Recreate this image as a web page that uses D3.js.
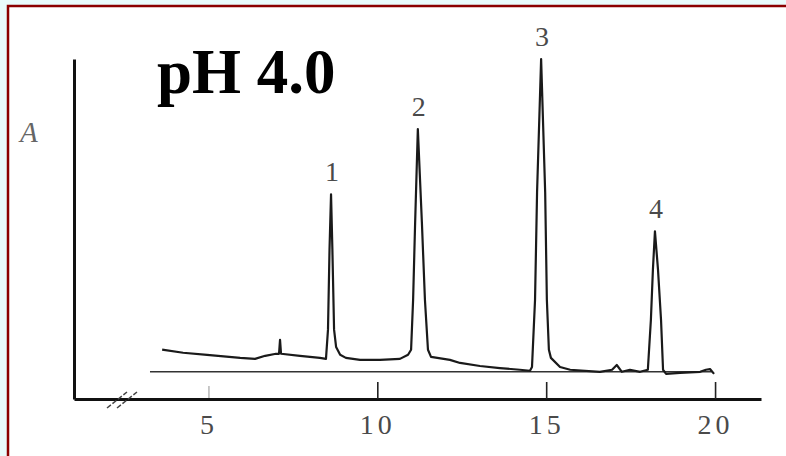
<!DOCTYPE html>
<meta charset="utf-8">
<style>
    body { margin: 0; background: #e9fbfc; }
    svg { display: block; }
    .tick text { font: 28px "Liberation Serif", serif; fill: #4a4a4a; letter-spacing: 4px; }
    .peak-label { font: 28px "Liberation Serif", serif; fill: #4a4a4a; text-anchor: middle; }
</style>
<svg></svg>
<script src="https://d3js.org/d3.v7.min.js"></script>
<script>

    var width = 786,
        height = 456;

    // retention time (min) and absorbance (arbitrary units)
    var retentionTimes = [3.63, 4.25, 4.96, 5.94, 6.38, 6.68, 7.00, 7.09, 7.12, 7.15, 7.71, 8.30, 8.48,
        8.54, 8.585, 8.63, 8.67, 8.72, 8.78, 8.90, 9.07, 9.49, 10.08, 10.67, 10.91, 11.00,
        11.06, 11.12, 11.20, 11.32, 11.41, 11.50, 11.59, 12.15, 12.45, 13.04, 13.63, 14.22, 14.52,
        14.58, 14.67, 14.73, 14.85, 14.97, 15.02, 15.08, 15.14, 15.41, 15.71, 16.59, 16.95, 17.09,
        17.24, 17.48, 17.78, 18.01, 18.10, 18.16, 18.22, 18.31, 18.40, 18.46, 18.55, 18.96, 19.56,
        19.73, 19.85, 19.97];
    var absorbance = [14.5, 13.6, 13.0, 12.1, 11.8, 12.7, 13.3, 13.3, 17.4, 13.3, 12.7, 12.1, 11.8,
        20.4, 44.0, 60.2, 44.0, 20.4, 15.3, 13.0, 12.1, 11.5, 11.5, 11.8, 13.0, 14.5,
        29.2, 51.9, 79.4, 51.9, 29.2, 14.5, 12.4, 11.5, 10.6, 9.7, 9.1, 8.6, 8.3,
        9.4, 29.2, 60.8, 100, 60.8, 29.2, 14.5, 12.1, 9.4, 8.6, 8.0, 8.6, 10.0,
        8.0, 8.6, 8.0, 8.6, 23.3, 38.1, 49.3, 38.1, 23.3, 8.6, 7.4, 7.7, 8.0,
        8.6, 8.8, 7.4];

    var peakLabels = ["1", "2", "3", "4"];
    var peakTimes = [8.63, 11.20, 14.85, 18.22];
    var peakHeights = [60.2, 79.4, 100, 49.3];

    var xTickValues = [5, 10, 15, 20];
    var baselineLevel = 8.0;
    var baselineRange = [3.27, 19.9];

    var svg = d3.select("svg")
        .attr("width", width)
        .attr("height", height);

    // frame
    svg.append("rect")
        .attr("x", 8).attr("y", 6)
        .attr("width", 820).attr("height", 500)
        .attr("fill", "#fff")
        .attr("stroke", "#8b0000")
        .attr("stroke-width", 2.5);

    var x = d3.scaleLinear().domain([1.02, 21.36]).range([74, 761]);
    var y = d3.scaleLinear().domain([0, 100]).range([399, 59]);

    // x axis with inward ticks
    var xAxis = svg.append("g")
        .attr("transform", "translate(0," + y(0) + ")")
        .call(d3.axisBottom(x).tickValues(xTickValues).tickSize(-17).tickSizeOuter(0).tickPadding(15));
    xAxis.select(".domain").attr("stroke", "#111").attr("stroke-width", 3);
    xAxis.selectAll(".tick line").attr("stroke", "#222").attr("stroke-width", 1.6);
    xAxis.selectAll(".tick").filter(function (d) { return d === 5; })
        .select("line").attr("stroke", "#bbb").attr("y2", -13).attr("y1", -1);
    xAxis.selectAll(".tick text").attr("fill", "#4a4a4a").attr("font-family", null).attr("font-size", null);

    // y axis: plain line
    var yAxis = svg.append("g")
        .attr("transform", "translate(" + x.range()[0] + ",0)")
        .call(d3.axisLeft(y).tickValues([]).tickSizeOuter(0));
    yAxis.select(".domain").attr("stroke", "#111").attr("stroke-width", 3);

    // axis break marks
    var breakG = svg.append("g").attr("stroke", "#444").attr("stroke-width", 1.5).attr("stroke-dasharray", "5,2");
    [0, 10].forEach(function (dx) {
        breakG.append("line")
            .attr("x1", 107 + dx).attr("y1", 408)
            .attr("x2", 127 + dx).attr("y2", 392);
    });

    // baseline reference
    svg.append("line")
        .attr("x1", x(baselineRange[0])).attr("x2", x(baselineRange[1]))
        .attr("y1", y(baselineLevel)).attr("y2", y(baselineLevel))
        .attr("stroke", "#333").attr("stroke-width", 1.5);

    // trace
    var points = retentionTimes.map(function (t, i) { return [t, absorbance[i]]; });
    var line = d3.line()
        .x(function (d) { return x(d[0]); })
        .y(function (d) { return y(d[1]); });
    svg.append("path")
        .datum(points)
        .attr("fill", "none")
        .attr("stroke", "#1a1a1a")
        .attr("stroke-width", 2.2)
        .attr("stroke-linejoin", "round")
        .attr("d", line);

    // peak numbers
    svg.selectAll(".peak-label")
        .data(peakLabels)
        .enter().append("text")
        .attr("class", "peak-label")
        .attr("x", function (d, i) { return x(peakTimes[i]) + 1; })
        .attr("y", function (d, i) { return y(peakHeights[i]) - 13; })
        .text(function (d) { return d; });

    // y axis label
    svg.append("text")
        .attr("x", 20).attr("y", 142)
        .attr("font-family", "Liberation Serif, serif")
        .attr("font-style", "italic")
        .attr("font-size", 29)
        .attr("fill", "#666")
        .text("A");

    // title
    svg.append("text")
        .attr("x", 157).attr("y", 93)
        .attr("font-family", "Liberation Serif, serif")
        .attr("font-weight", "bold")
        .attr("font-size", 63)
        .attr("fill", "#000")
        .text("pH 4.0");

</script>
